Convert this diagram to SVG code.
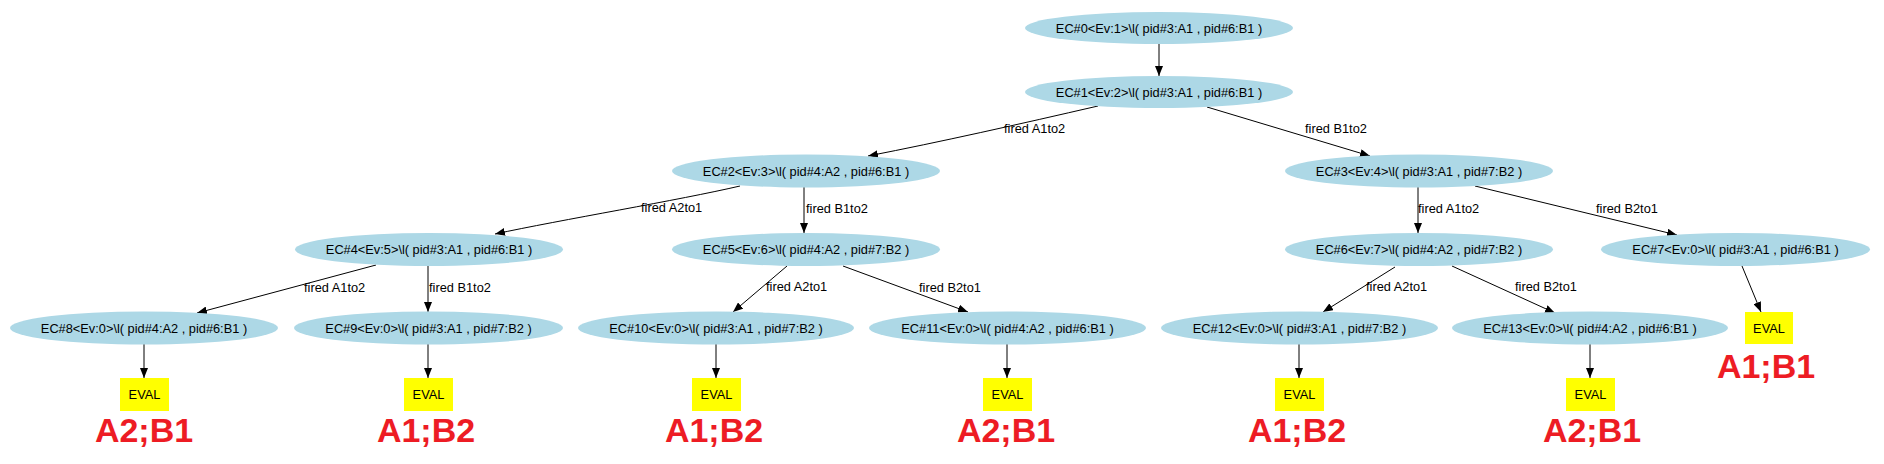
<svg xmlns="http://www.w3.org/2000/svg" width="1884" height="464" viewBox="0 0 1884 464">
<style>
.n ellipse{fill:#add8e6;stroke:none}
.n text,.ev text,.lbl{font-family:"Liberation Sans",Arial,sans-serif;font-size:12.8px;fill:#000}
.n text,.ev text{text-anchor:middle}
.ev rect{fill:#ffff00;stroke:none}
.res{font-family:"Liberation Sans",Arial,sans-serif;font-size:34px;font-weight:bold;fill:#ed1c24;text-anchor:middle}
.e path{fill:none;stroke:#000;stroke-width:1;marker-end:url(#arr)}
</style>
<defs>
<marker id="arr" markerUnits="userSpaceOnUse" markerWidth="10" markerHeight="8" refX="10" refY="4" orient="auto">
<path d="M0,0 L10,4 L0,8 z" fill="#000"/>
</marker>
</defs>
<rect width="1884" height="464" fill="#fff"/>
<g id="edges" class="e">
<path d="M1159,43 L1159,76"/>
<path d="M1098,106 C1020,124 940,142 868,156"/>
<path d="M1207,107 L1370,156"/>
<path d="M740,186 C680,200 560,220 495,234"/>
<path d="M804,187 L804,233"/>
<path d="M1418,187 L1418,233"/>
<path d="M1475,186 L1677,235"/>
<path d="M376,265 L197,313"/>
<path d="M428,265 L428,312"/>
<path d="M787,266 L733,312"/>
<path d="M843,266 L968,312"/>
<path d="M1395,267 L1323,312"/>
<path d="M1452,266 L1555,313"/>
<path d="M1742,266 L1761,312"/>
<path d="M144,344 L144,378"/>
<path d="M428,344 L428,378"/>
<path d="M716,344 L716,378"/>
<path d="M1007,344 L1007,378"/>
<path d="M1299,344 L1299,378"/>
<path d="M1590,344 L1590,378"/>
</g>
<g id="edge-labels">
<text class="lbl" x="1004" y="133">fired A1to2</text>
<text class="lbl" x="1305" y="133">fired B1to2</text>
<text class="lbl" x="641" y="212">fired A2to1</text>
<text class="lbl" x="806" y="213">fired B1to2</text>
<text class="lbl" x="1418" y="213">fired A1to2</text>
<text class="lbl" x="1596" y="213">fired B2to1</text>
<text class="lbl" x="304" y="292">fired A1to2</text>
<text class="lbl" x="429" y="292">fired B1to2</text>
<text class="lbl" x="766" y="291">fired A2to1</text>
<text class="lbl" x="919" y="292">fired B2to1</text>
<text class="lbl" x="1366" y="291">fired A2to1</text>
<text class="lbl" x="1515" y="291">fired B2to1</text>
</g>
<g id="EC0" class="n"><ellipse cx="1159" cy="28" rx="134" ry="16"/><text x="1159" y="32.5">EC#0&lt;Ev:1&gt;\l( pid#3:A1 , pid#6:B1 )</text></g>
<g id="EC1" class="n"><ellipse cx="1159" cy="92" rx="134" ry="16"/><text x="1159" y="96.5">EC#1&lt;Ev:2&gt;\l( pid#3:A1 , pid#6:B1 )</text></g>
<g id="EC2" class="n"><ellipse cx="806" cy="171" rx="134" ry="16.5"/><text x="806" y="175.5">EC#2&lt;Ev:3&gt;\l( pid#4:A2 , pid#6:B1 )</text></g>
<g id="EC3" class="n"><ellipse cx="1419" cy="171" rx="134" ry="16.5"/><text x="1419" y="175.5">EC#3&lt;Ev:4&gt;\l( pid#3:A1 , pid#7:B2 )</text></g>
<g id="EC4" class="n"><ellipse cx="429" cy="249.5" rx="134" ry="16.5"/><text x="429" y="254">EC#4&lt;Ev:5&gt;\l( pid#3:A1 , pid#6:B1 )</text></g>
<g id="EC5" class="n"><ellipse cx="806" cy="249.5" rx="134" ry="16.5"/><text x="806" y="254">EC#5&lt;Ev:6&gt;\l( pid#4:A2 , pid#7:B2 )</text></g>
<g id="EC6" class="n"><ellipse cx="1419" cy="249.5" rx="134" ry="16.5"/><text x="1419" y="254">EC#6&lt;Ev:7&gt;\l( pid#4:A2 , pid#7:B2 )</text></g>
<g id="EC7" class="n"><ellipse cx="1735.5" cy="249.5" rx="134.5" ry="16.5"/><text x="1735.5" y="254">EC#7&lt;Ev:0&gt;\l( pid#3:A1 , pid#6:B1 )</text></g>
<g id="EC8" class="n"><ellipse cx="144" cy="328" rx="134" ry="16.5"/><text x="144" y="332.5">EC#8&lt;Ev:0&gt;\l( pid#4:A2 , pid#6:B1 )</text></g>
<g id="EC9" class="n"><ellipse cx="428.5" cy="328" rx="134.5" ry="16.5"/><text x="428.5" y="332.5">EC#9&lt;Ev:0&gt;\l( pid#3:A1 , pid#7:B2 )</text></g>
<g id="EC10" class="n"><ellipse cx="716" cy="328" rx="138" ry="16.5"/><text x="716" y="332.5">EC#10&lt;Ev:0&gt;\l( pid#3:A1 , pid#7:B2 )</text></g>
<g id="EC11" class="n"><ellipse cx="1007.5" cy="328" rx="138.5" ry="16.5"/><text x="1007.5" y="332.5">EC#11&lt;Ev:0&gt;\l( pid#4:A2 , pid#6:B1 )</text></g>
<g id="EC12" class="n"><ellipse cx="1299.5" cy="328" rx="138.5" ry="16.5"/><text x="1299.5" y="332.5">EC#12&lt;Ev:0&gt;\l( pid#3:A1 , pid#7:B2 )</text></g>
<g id="EC13" class="n"><ellipse cx="1590" cy="328" rx="138" ry="16.5"/><text x="1590" y="332.5">EC#13&lt;Ev:0&gt;\l( pid#4:A2 , pid#6:B1 )</text></g>
<g id="EVAL8" class="ev"><rect x="120" y="378" width="49" height="33"/><text x="144.5" y="399">EVAL</text></g>
<g id="EVAL9" class="ev"><rect x="404" y="378" width="49" height="33"/><text x="428.5" y="399">EVAL</text></g>
<g id="EVAL10" class="ev"><rect x="692" y="378" width="49" height="33"/><text x="716.5" y="399">EVAL</text></g>
<g id="EVAL11" class="ev"><rect x="983" y="378" width="49" height="33"/><text x="1007.5" y="399">EVAL</text></g>
<g id="EVAL12" class="ev"><rect x="1275" y="378" width="49" height="33"/><text x="1299.5" y="399">EVAL</text></g>
<g id="EVAL13" class="ev"><rect x="1566" y="378" width="49" height="33"/><text x="1590.5" y="399">EVAL</text></g>
<g id="EVAL7" class="ev"><rect x="1745" y="312" width="48" height="32"/><text x="1769" y="332.5">EVAL</text></g>
<g id="results">
<text class="res" x="144" y="442">A2;B1</text>
<text class="res" x="426" y="442">A1;B2</text>
<text class="res" x="714" y="442">A1;B2</text>
<text class="res" x="1006" y="442">A2;B1</text>
<text class="res" x="1297" y="442">A1;B2</text>
<text class="res" x="1592" y="442">A2;B1</text>
<text class="res" x="1766" y="378">A1;B1</text>
</g>
</svg>
